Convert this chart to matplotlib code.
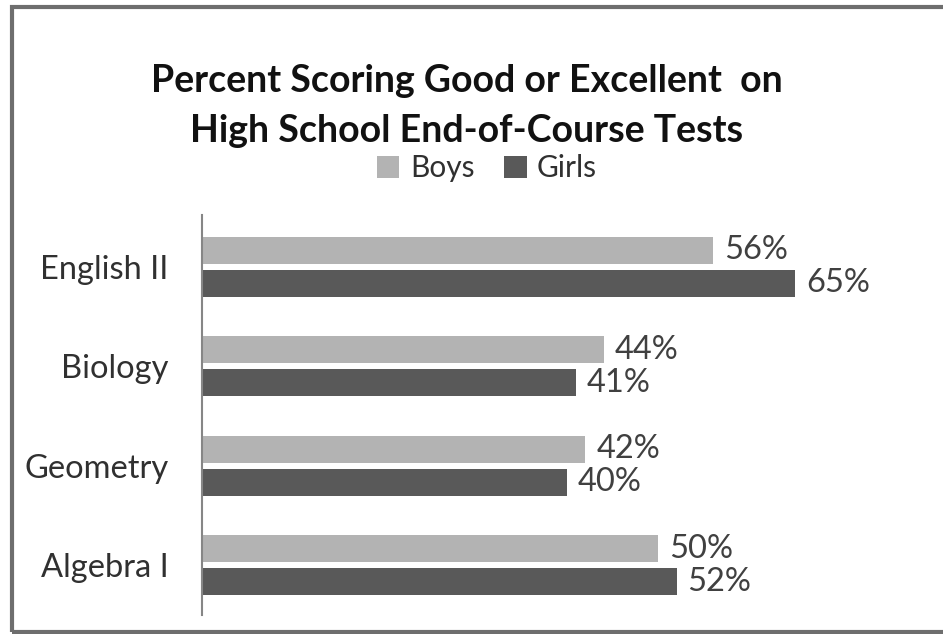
import matplotlib
matplotlib.use("Agg")
import matplotlib.pyplot as plt
from matplotlib.patches import Rectangle

plt.rcParams['font.family'] = ['Lato', 'DejaVu Sans']

subjects = ["English II", "Biology", "Geometry", "Algebra I"]
boys = [56, 44, 42, 50]
girls = [65, 41, 40, 52]
series_names = ["Boys", "Girls"]

fig = plt.figure(figsize=(9.43, 6.34), dpi=100)
ax = fig.add_axes([202 / 943, 1 - 615 / 634, 678 / 943, 400 / 634])

pos = list(range(len(subjects)))
h = 0.27
off = 0.165
b1 = ax.barh([p - off for p in pos], boys, height=h, color="#b3b3b3", label=series_names[0])
b2 = ax.barh([p + off for p in pos], girls, height=h, color="#595959", label=series_names[1])

for bars, vals in ((b1, boys), (b2, girls)):
    for bar, v in zip(bars, vals):
        ax.text(v + 1.2, bar.get_y() + bar.get_height() / 2, f"{v}%",
                va="center", ha="left", fontsize=23.5, color="#404040")

ax.set_xlim(0, 74.3)
ax.set_ylim(3.5, -0.52)
ax.set_yticks(pos)
ax.set_yticklabels(subjects, fontsize=23.5, color="#303030")
ax.tick_params(axis="y", length=0, pad=24)
ax.set_xticks([])
for s in ("top", "right", "bottom"):
    ax.spines[s].set_visible(False)
ax.spines["left"].set_color("#868686")
ax.spines["left"].set_linewidth(1.5)

fig.text(467 / 943, 1 - 106 / 634, "Percent Scoring Good or Excellent  on\nHigh School End-of-Course Tests",
         ha="center", va="center", fontsize=27, fontweight="bold", linespacing=1.58, color="#111111")

fig.legend(handles=[b1, b2], labels=series_names, loc="center", bbox_to_anchor=(487 / 943, 1 - 168 / 634),
           ncol=2, frameon=False, fontsize=21.5, handlelength=0.75, handleheight=0.75,
           handletextpad=0.35, columnspacing=1.0, labelcolor="#303030")

fig.patches.append(Rectangle((12 / 943, 2 / 634), 1.0, 625 / 634, transform=fig.transFigure,
                             fill=False, edgecolor="#6e6e6e", linewidth=3))

fig.savefig("out.png", dpi=100)
